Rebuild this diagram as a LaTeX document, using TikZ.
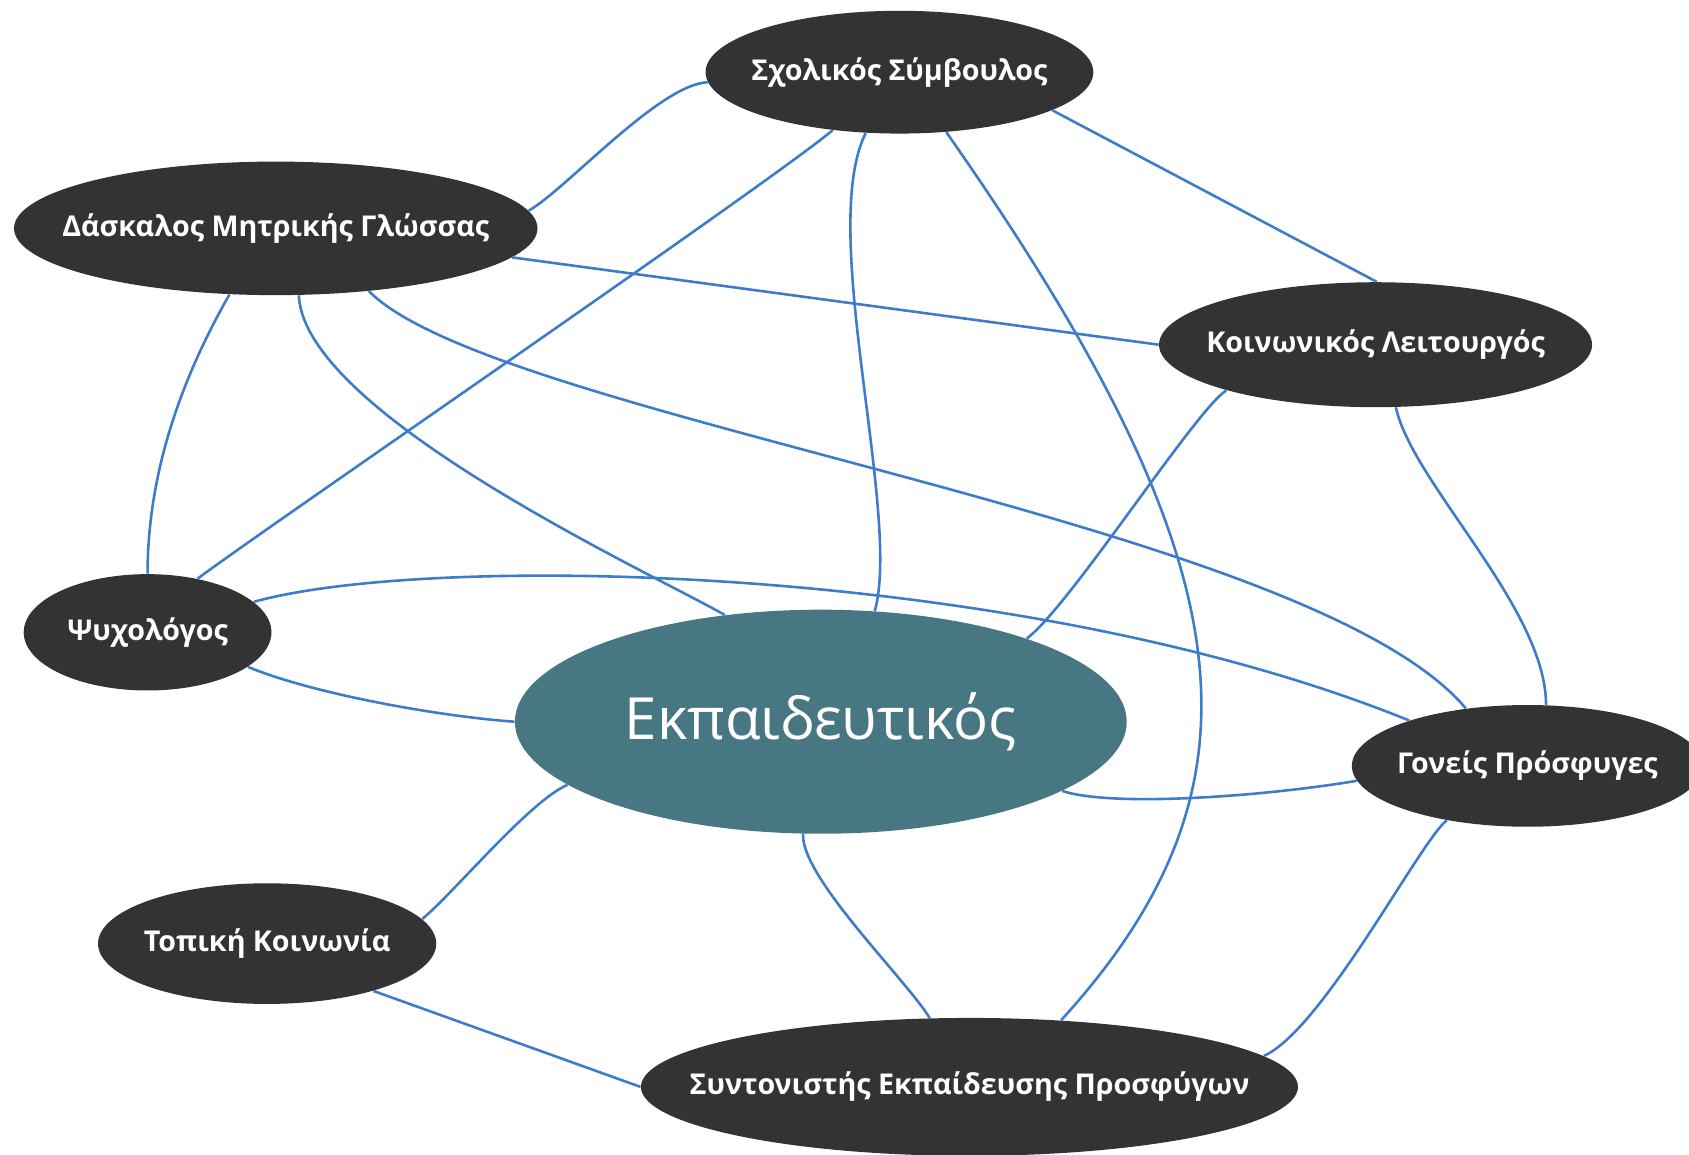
\documentclass[tikz,border=0pt]{standalone}
\usepackage{fontspec}
\setmainfont{Open Sans}
\usetikzlibrary{shapes.geometric}
\definecolor{nodegray}{HTML}{333333}
\definecolor{centerteal}{HTML}{467782}
\definecolor{linkblue}{HTML}{3D7CC9}
\newcommand\lbl[1]{\makebox[0pt]{#1}}
\begin{document}
\begin{tikzpicture}[x=0.5pt, y=-0.5pt,
    person/.style={ellipse, fill=nodegray, text=white, inner sep=0pt,
        font=\bfseries\fontsize{13.3}{15}\selectfont},
    link/.style={draw=linkblue, line width=1.2pt}]
    \path[use as bounding box, clip] (0,0) rectangle (1568,1072);
    \node[person, minimum width=180pt, minimum height=57pt] (sch) at (835,67) {\lbl{Σχολικός Σύμβουλος}};
    \node[person, minimum width=243pt, minimum height=62pt] (dask) at (256,212) {\lbl{Δάσκαλος Μητρικής Γλώσσας}};
    \node[person, minimum width=201pt, minimum height=58pt] (koin) at (1277,320) {\lbl{Κοινωνικός Λειτουργός}};
    \node[person, minimum width=115pt, minimum height=54pt] (psy) at (137,587) {\lbl{Ψυχολόγος}};
    \node[ellipse, fill=centerteal, text=white, inner sep=0pt, minimum width=284pt, minimum height=104pt,
        font=\fontsize{27}{32}\selectfont] (ekp) at (762,670) {\lbl{Εκπαιδευτικός}};
    \node[person, minimum width=163pt, minimum height=56.5pt] (gon) at (1418,711) {\lbl{Γονείς Πρόσφυγες}};
    \node[person, minimum width=157pt, minimum height=56pt] (top) at (248,876) {\lbl{Τοπική Κοινωνία}};
    \node[person, minimum width=305pt, minimum height=64pt] (syn) at (900,1009) {\lbl{Συντονιστής Εκπαίδευσης Προσφύγων}};
    \draw[link] (sch.183) .. controls +(-45,2) and +(35,-20) .. (dask.4);
    \draw[link] (sch.221) .. controls +(-60,50) and +(60,-45) .. (psy.47);
    \draw[link] (sch.241) .. controls +(-45,90) and +(25,-90) .. (ekp.64);
    \draw[link] (sch.308) .. controls +(280,400) and +(200,-220) .. (syn.36);
    \draw[link] (sch.-14) -- (koin.89);
    \draw[link] (dask.-7) -- (koin.180);
    \draw[link] (dask.235) .. controls +(-40,70) and +(0,-100) .. (psy.90);
    \draw[link] (dask.289) .. controls +(5,110) and +(-70,-40) .. (ekp.132);
    \draw[link] (dask.326) .. controls +(118,119) and +(-147,-175) .. (gon.137);
    \draw[link] (koin.197) .. controls +(-30,20) and +(40,-30) .. (ekp.22);
    \draw[link] (koin.288) .. controls +(15,70) and +(0,-90) .. (gon.73);
    \draw[link] (psy.16) .. controls +(165,-46) and +(-360,-146) .. (gon.159);
    \draw[link] (psy.341) .. controls +(60,25) and +(-70,-5) .. (ekp.180);
    \draw[link] (ekp.344) .. controls +(45,15) and +(-90,15) .. (gon.185);
    \draw[link] (ekp.194) .. controls +(-35,15) and +(30,-25) .. (top.9);
    \draw[link] (ekp.261) .. controls +(-2,40) and +(-23,-37) .. (syn.120);
    \draw[link] (gon.214) .. controls +(-25,20) and +(55,-25) .. (syn.6);
    \draw[link] (top.336) -- (syn.180);
\end{tikzpicture}
\end{document}
